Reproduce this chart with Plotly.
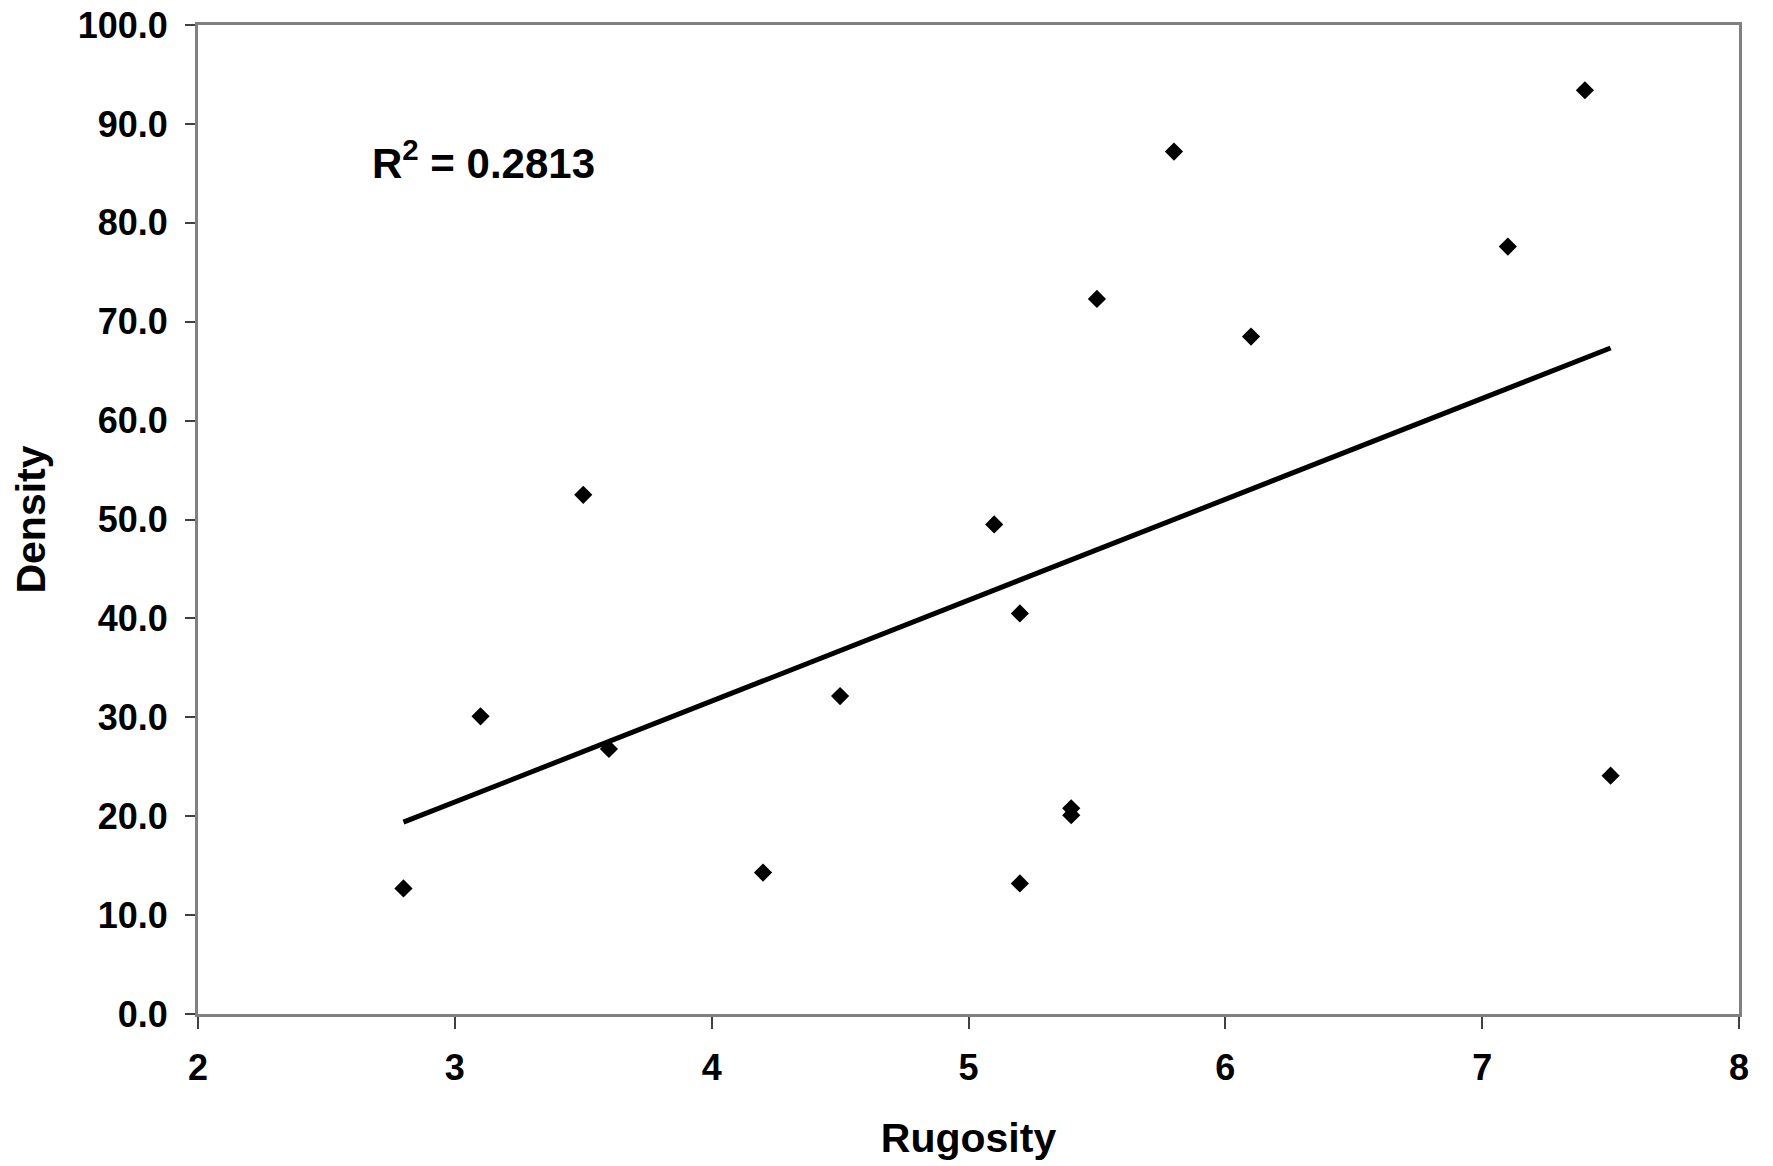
import numpy as np
import plotly.graph_objects as go

rugosity = [2.8, 3.1, 3.5, 3.6, 4.2, 4.5, 5.1, 5.2, 5.2, 5.4, 5.4, 5.5, 5.8, 6.1, 7.1, 7.4, 7.5]
density = [12.7, 30.1, 52.5, 26.8, 14.3, 32.15, 49.5, 40.5, 13.2, 20.8, 20.1, 72.3, 87.2, 68.5, 77.6, 93.4, 24.1]
r2_label = "R<sup>2</sup> = 0.2813"

x_ticks = [2, 3, 4, 5, 6, 7, 8]
y_ticks = [0, 10, 20, 30, 40, 50, 60, 70, 80, 90, 100]

slope, intercept = np.polyfit(rugosity, density, 1)
trend_x = [min(rugosity), max(rugosity)]
trend_y = [slope * v + intercept for v in trend_x]

FONT = "Liberation Sans, Arial, sans-serif"

fig = go.Figure()
fig.add_trace(go.Scatter(x=trend_x, y=trend_y, mode="lines",
                         line=dict(color="black", width=5), showlegend=False))
fig.add_trace(go.Scatter(x=rugosity, y=density, mode="markers",
                         marker=dict(symbol="diamond", size=14, color="black"),
                         showlegend=False))

fig.add_annotation(x=2.67, y=86.4, xref="x", yref="y", text=r2_label,
                   showarrow=False, xanchor="left", yanchor="middle",
                   font=dict(family=FONT, size=42, color="black", weight="bold"))

axis_common = dict(showgrid=False, zeroline=False, showline=True, linecolor="#808080",
                   linewidth=3, mirror=True, ticks="outside", tickcolor="#404040",
                   tickwidth=1.5, automargin=False, ticklabeloverflow="allow",
                   tickfont=dict(family=FONT, size=36, color="black", weight="bold"))

fig.update_xaxes(range=[2, 8], tickvals=x_ticks, ticktext=[str(v) for v in x_ticks],
                 ticklen=12, ticklabelstandoff=8,
                 title=dict(text="<b>Rugosity</b>", font=dict(family=FONT, size=41, color="black"),
                            standoff=37),
                 **axis_common)
fig.update_yaxes(range=[0, 100], tickvals=y_ticks, ticktext=[f"{v:.1f}" for v in y_ticks],
                 ticklen=10, ticklabelstandoff=10,
                 title=dict(text="<b>Density</b>", font=dict(family=FONT, size=41, color="black"),
                            standoff=20),
                 **axis_common)

fig.update_layout(width=1773, height=1166, plot_bgcolor="white", paper_bgcolor="white",
                  margin=dict(l=198, r=34, t=25, b=152),
                  font=dict(family=FONT, color="black"))

fig.write_html("out.html", config={"displayModeBar": False},
               post_script="document.body.style.margin='0';document.body.style.overflow='hidden';")
